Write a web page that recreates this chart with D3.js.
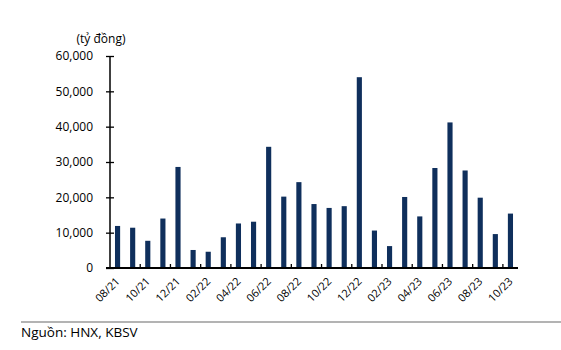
<!DOCTYPE html>
<html><head><meta charset="utf-8">
<script src="https://cdn.jsdelivr.net/npm/d3@7"></script>
<style>body{margin:0;background:#fff}svg{display:block}text{font-family:"Open Sans",sans-serif;fill:#000}</style>
</head><body>
<svg id="c" width="561" height="350"></svg>
<script>
const months = ["08/21","09/21","10/21","11/21","12/21","01/22","02/22","03/22","04/22","05/22","06/22","07/22","08/22","09/22","10/22","11/22","12/22","01/23","02/23","03/23","04/23","05/23","06/23","07/23","08/23","09/23","10/23"];
const values = [11900,11400,7700,14000,28600,5100,4600,8700,12600,13100,34300,20200,24300,18100,17000,17500,54000,10600,6200,20100,14600,28300,41200,27600,19900,9600,15400];
const yTicks = [0,10000,20000,30000,40000,50000,60000];
const unitLabel = "(tỷ đồng)";
const sourceLabel = "Nguồn: HNX, KBSV";

const svg = d3.select("#c");
const L = 110, R = 518, T = 56, B = 268;
const x = d3.scaleBand().domain(months).range([L, R]).paddingInner(0.66).paddingOuter(0.33);
const y = d3.scaleLinear().domain([0, 60000]).range([B, T]);

svg.selectAll("rect.bar").data(values).join("rect")
  .attr("class","bar")
  .attr("x",(d,i)=>x(months[i]))
  .attr("width",x.bandwidth())
  .attr("y",d=>y(d))
  .attr("height",d=>B-y(d))
  .attr("fill","#0f2f5c");

// y axis
const ya = svg.append("g").attr("transform",`translate(${L},0)`)
  .call(d3.axisLeft(y).tickValues(yTicks).tickFormat(d3.format(",")).tickSize(4).tickPadding(13));
ya.select(".domain").attr("stroke","#000").attr("stroke-width",1.5).attr("d",`M0,${T}V${B}`);
ya.selectAll(".tick line").attr("x1",-4).attr("x2",4).attr("stroke","#000").attr("stroke-width",1.3);
ya.selectAll(".tick text").attr("font-size",12).attr("font-family","Open Sans").attr("fill","#000");

// x axis
const xa = svg.append("g").attr("transform",`translate(0,${B})`)
  .call(d3.axisBottom(x).tickValues(months.filter((m,i)=>i%2===0)).tickSize(0).tickFormat(d=>d));
xa.select(".domain").attr("stroke","#000").attr("stroke-width",2).attr("d",`M${L-4},0H${R}`);
xa.selectAll(".tick text")
  .attr("font-size",11).attr("font-family","Open Sans").attr("fill","#000")
  .attr("text-anchor","end").attr("dy",null).attr("y",0)
  .attr("transform","translate(3,14) rotate(-45)");
// inner tick marks at every second band boundary
const tickPos = d3.range(2, months.length, 2).map(i => x(months[i]) - x.step()*x.paddingInner()/2);
svg.append("g").selectAll("line").data(tickPos).join("line")
  .attr("x1",d=>d).attr("x2",d=>d).attr("y1",B-4).attr("y2",B)
  .attr("stroke","#000").attr("stroke-width",1.3);

svg.append("text").attr("x",101).attr("y",43).attr("text-anchor","middle")
  .attr("font-size",12).text(unitLabel);

svg.append("line").attr("x1",21).attr("x2",561).attr("y1",322).attr("y2",322)
  .attr("stroke","#b3b3b3").attr("stroke-width",2);
svg.append("text").attr("x",21).attr("y",337).attr("font-size",13.5).text(sourceLabel);
</script>
</body></html>
